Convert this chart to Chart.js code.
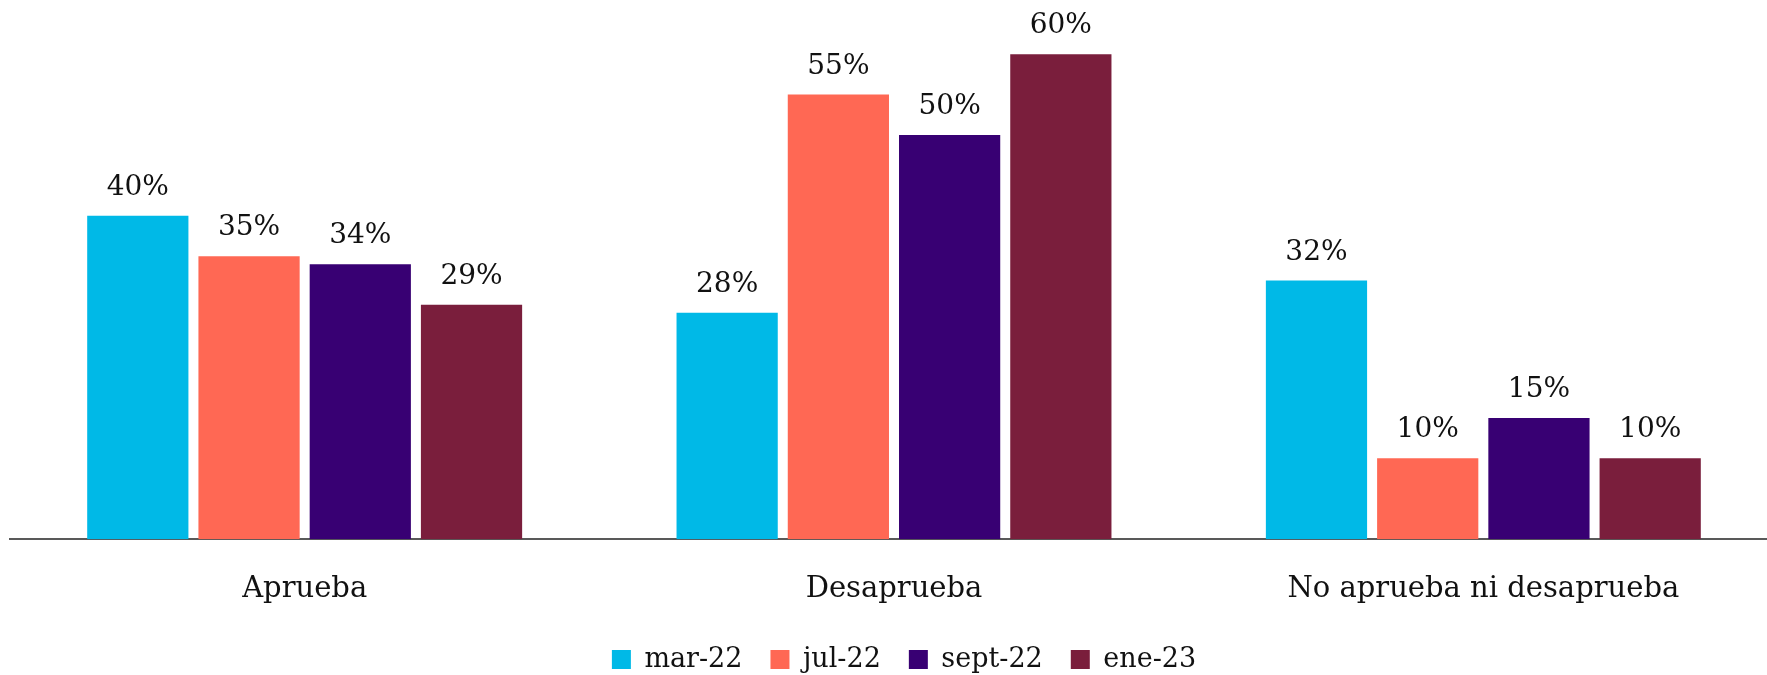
<!DOCTYPE html>
<html>
<head>
<meta charset="utf-8">
<script src="https://cdn.jsdelivr.net/npm/chart.js@4"></script>
<style>
  html, body { margin: 0; padding: 0; background: #ffffff; overflow: hidden; }
  #wrap { width: 1778px; height: 675px; position: relative; }
</style>
</head>
<body>
<div id="wrap"><canvas id="c"></canvas></div>
<script>
const categories = ["Aprueba", "Desaprueba", "No aprueba ni desaprueba"];
const seriesNames = ["mar-22", "jul-22", "sept-22", "ene-23"];
const mar22 = [40, 28, 32];
const jul22 = [35, 55, 10];
const sept22 = [34, 50, 15];
const ene23 = [29, 60, 10];
const seriesColors = ["#00B9E7", "#FF6854", "#380073", "#7A1E3C"];

const FONT = "'DejaVu Serif', 'Liberation Serif', serif";

const valueLabels = {
  id: 'valueLabels',
  afterDatasetsDraw(chart) {
    const ctx = chart.ctx;
    ctx.save();
    ctx.font = "28px " + FONT;
    ctx.fillStyle = "#111111";
    ctx.textAlign = "center";
    ctx.textBaseline = "alphabetic";
    chart.data.datasets.forEach((ds, i) => {
      const meta = chart.getDatasetMeta(i);
      meta.data.forEach((bar, j) => {
        ctx.fillText(ds.data[j] + "%", bar.x, bar.y - 21);
      });
    });
    ctx.restore();
  }
};

const legendShift = {
  id: 'legendShift',
  afterLayout(chart) {
    const lg = chart.legend;
    if (!lg) return;
    const dx = 10, dy = 8;
    lg.left += dx; lg.right += dx;
    lg.top += dy; lg.bottom += dy;
  }
};

new Chart(document.getElementById('c'), {
  type: 'bar',
  data: {
    labels: categories,
    datasets: [mar22, jul22, sept22, ene23].map((d, i) => ({
      label: seriesNames[i],
      data: d,
      backgroundColor: seriesColors[i],
      borderWidth: 0,
      categoryPercentage: 0.755,
      barPercentage: 0.91
    }))
  },
  options: {
    responsive: true,
    maintainAspectRatio: false,
    animation: false,
    layout: { padding: { left: 10, right: 0, top: 0, bottom: 0 } },
    plugins: {
      legend: {
        position: 'bottom',
        labels: {
          boxWidth: 19,
          boxHeight: 19,
          padding: 28,
          color: "#111111",
          font: { family: FONT, size: 27 }
        }
      },
      tooltip: { enabled: false }
    },
    scales: {
      x: {
        grid: { display: false, drawTicks: false },
        border: { display: true, color: "#595959", width: 2 },
        ticks: {
          color: "#111111",
          padding: 33,
          font: { family: FONT, size: 29 }
        },
        afterFit(scale) { scale.height -= 30; }
      },
      y: {
        display: false,
        min: 0,
        max: 66.7
      }
    }
  },
  plugins: [valueLabels, legendShift]
});
</script>
</body>
</html>
